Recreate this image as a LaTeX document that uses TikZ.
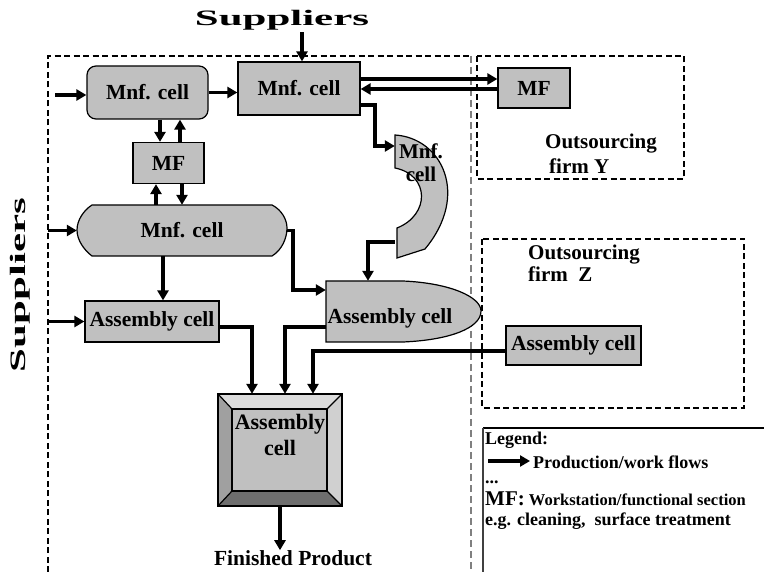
\documentclass[tikz,border=0pt]{standalone}
\usepackage{fontspec}
\setmainfont{Liberation Serif}
\usetikzlibrary{arrows.meta,calc}
\definecolor{cellgray}{HTML}{C0C0C0}
\definecolor{bevtop}{HTML}{DCDCDC}
\definecolor{bevleft}{HTML}{A0A0A0}
\definecolor{bevright}{HTML}{D0D0D0}
\definecolor{bevbot}{HTML}{6E6E6E}
\begin{document}
\begin{tikzpicture}[x=1pt,y=-1pt,
  flow/.style={line width=3.5pt,-{Triangle[length=10pt,width=11pt]}},
  cellbox/.style={draw,line width=1.2pt,fill=cellgray,inner sep=0pt,align=center,font=\bfseries\fontsize{21.5}{24}\selectfont},
  asmfont/.style={font=\bfseries\fontsize{21.5}{24}\selectfont},
  plain/.style={inner sep=0pt,align=center,font=\bfseries\fontsize{21.5}{24}\selectfont},
  shapeline/.style={draw,line width=1.2pt,fill=cellgray},
  firmbox/.style={draw,line width=2.4pt,dash pattern=on 6pt off 3.5pt},
  legtext/.style={inner sep=0pt,anchor=west,font=\bfseries\fontsize{18}{20}\selectfont},
]
\clip (0,0) rectangle (764,572);
\fill[white] (0,0) rectangle (764,572);

% borders
\draw[line width=2.4pt,dash pattern=on 6pt off 3.5pt] (48,572) -- (48,56) -- (471,56);
\draw[gray,line width=1.3pt,dash pattern=on 7pt off 4pt] (471,56) -- (471,572);
\draw[firmbox] (477,56) rectangle (684,179);
\draw[firmbox] (482,239) rectangle (744,408);
\draw[line width=1.2pt] (764,428) -- (483,428);
\draw[darkgray,line width=1.5pt] (483,428) -- (483,572);

% suppliers
\node[inner sep=0pt,font=\bfseries\fontsize{22}{24}\selectfont] (supT) at (282,20) {\scalebox{1.95}[1]{Suppliers}};
\node[inner sep=0pt,rotate=90,font=\bfseries\fontsize{22}{24}\selectfont] (supL) at (20,285) {\scalebox{1.95}[1]{Suppliers}};

% cells
\node[cellbox,rounded corners=9pt,minimum width=121pt,minimum height=53pt] (m1) at (147.5,92.5) {Mnf. cell};
\node[cellbox,minimum width=122pt,minimum height=53pt] (m2) at (299,88.5) {Mnf. cell};
\node[cellbox,minimum width=71pt,minimum height=41pt] (mfL) at (168.5,163) {\raisebox{-8pt}{MF}};
\node[cellbox,minimum width=72pt,minimum height=40pt] (mfR) at (534,88) {\raisebox{-6pt}{MF}};

\path[shapeline] (92,205) -- (272,205) .. controls (282,210) and (287,220) .. (287,228)
  .. controls (287,238) and (282,250) .. (272,256) -- (92,256)
  .. controls (84,250) and (77,240) .. (77,230) .. controls (77,220) and (84,210) .. (92,205) -- cycle;
\node[plain,minimum width=210pt,minimum height=51pt] (m3) at (182,230.5) {Mnf. cell};

\node[cellbox,asmfont,minimum width=134pt,minimum height=41pt] (a1) at (152,321.5) {\raisebox{-5pt}{Assembly cell}};

\path[shapeline] (326,281) -- (403,281) .. controls (450,283) and (481,297) .. (481,311)
  .. controls (481,328) and (450,340) .. (403,342) -- (326,342) -- cycle;
\node[inner sep=0pt,minimum width=155pt,minimum height=61pt] (a2) at (403.5,311.5) {};
\node[plain,asmfont] (a2t) at (390,318) {Assembly cell};

\path[shapeline] (395,135) .. controls (442,138) and (470,195) .. (425,249) -- (397,258) -- (397,228)
  .. controls (430,215) and (430,175) .. (395,168) -- cycle;
\node[inner sep=0pt,minimum width=55pt,minimum height=123pt] (m4) at (422.5,196.5) {};
\node[plain,font=\bfseries\fontsize{21}{23}\selectfont] (m4t) at (421,163) {Mnf.\\cell};

\node[cellbox,asmfont,minimum width=135pt,minimum height=39pt] (aZ) at (573.5,345.5) {\raisebox{-2pt}{Assembly cell}};

% final assembly cell (bevelled)
\fill[bevtop] (218,394) -- (342,394) -- (327,409) -- (232,409) -- cycle;
\fill[bevleft] (218,394) -- (232,409) -- (232,491) -- (218,506) -- cycle;
\fill[bevright] (342,394) -- (342,506) -- (327,491) -- (327,409) -- cycle;
\fill[bevbot] (218,506) -- (342,506) -- (327,491) -- (232,491) -- cycle;
\fill[cellgray] (232,409) rectangle (327,491);
\draw[line width=1.2pt] (218,394) rectangle (342,506);
\draw[line width=1.2pt] (232,409) rectangle (327,491);
\draw[line width=1.2pt] (218,394) -- (232,409) (342,394) -- (327,409) (218,506) -- (232,491) (342,506) -- (327,491);
\node[inner sep=0pt,minimum width=124pt,minimum height=112pt] (fin) at (280,450) {};
\node[plain,font=\bfseries\fontsize{22}{26}\selectfont] (fint) at (280,435) {Assembly\\cell};

\node[plain,asmfont] (prod) at (293,558) {Finished Product};

% outsourcing labels
\node[inner sep=0pt,anchor=north west,align=left,font=\bfseries\fontsize{21}{25}\selectfont] (fy) at (545,134) {Outsourcing\\\hspace*{4pt}firm Y};
\node[inner sep=0pt,anchor=north west,align=left,font=\bfseries\fontsize{21}{22}\selectfont] (fz) at (528,245) {Outsourcing\\firm\ \ Z};

% flows
\draw[flow] ($(m2.north)+(3,-29)$) -- ($(m2.north)+(3,0)$);
\draw[flow] ($(m1.west)+(-31,2.5)$) -- ($(m1.west)+(0,2.5)$);
\draw[flow] (m1.east) -- (m1.east -| m2.west);
\draw[flow] (m1.south -| 160,0) -- (mfL.north -| 160,0);
\draw[flow] (mfL.north -| 180,0) -- (m1.south -| 180,0);
\draw[flow] (m3.north -| 156,0) -- (mfL.south -| 156,0);
\draw[flow] (mfL.south -| 182,0) -- (m3.north -| 182,0);
\draw[flow] (m3.west -| 48,0) -- (m3.west);
\draw[flow] (m3.south -| 163,0) -- (a1.north -| 163,0);
\draw[flow] (a1.west -| 48,0) -- (a1.west);
\draw[flow] (m3.east) -- ++(6,0) |- (a2.west |- 0,290);
\draw[flow] (m2.east |- 0,105) -- (375,105) |- (m4.west |- 0,146);
\draw[flow] (m4.west |- 0,242) -| (a2.north -| 368,0);
\draw[flow] (m2.east |- 0,79) -- (mfR.west |- 0,79);
\draw[flow] (mfR.west |- 0,89) -- (m2.east |- 0,89);
\draw[flow] (a1.east |- 0,327) -| (fin.north -| 252,0);
\draw[flow] (a2.west |- 0,327) -| (fin.north -| 285,0);
\draw[flow] (aZ.west |- 0,351) -| (fin.north -| 313,0);
\draw[flow] (fin.south) -- (fin.south |- prod.north);

% legend
\node[legtext] (lg) at (485,440) {Legend:};
\node[legtext] (lgflow) at (533,462) {Production/work flows};
\draw[flow] ($(lgflow.west)+(-45,-1)$) -- ($(lgflow.west)+(-3,-1)$);
\node[legtext] (dots) at (485,482) {...};
\node[legtext,font=\bfseries\fontsize{16.5}{20}\selectfont] (mfdef) at (485,499) {{\fontsize{21}{24}\selectfont MF:} Workstation/functional section};
\node[legtext] (eg) at (485,521) {e.g. cleaning,\ \ surface treatment};
\end{tikzpicture}
\end{document}
